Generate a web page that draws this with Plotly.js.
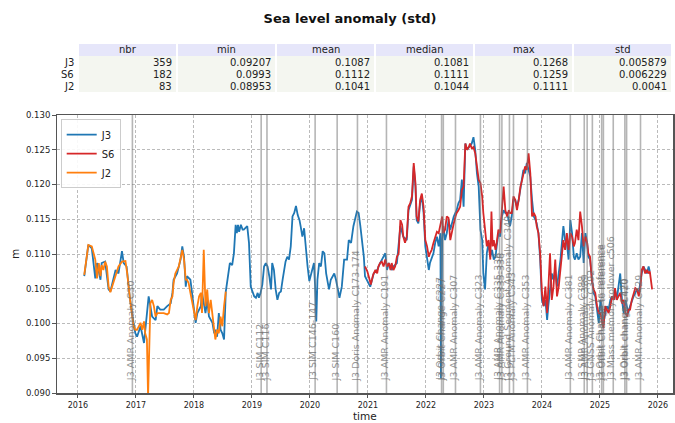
<!DOCTYPE html>
<html>
<head>
<meta charset="utf-8">
<script src="https://cdn.plot.ly/plotly-3.0.1.min.js"></script>
<style>html,body{margin:0;padding:0;background:#fff;}#chart{width:675px;height:423px;}</style>
</head>
<body>
<div id="chart"></div>
<script>
// ---------- data ----------
var j3T = [2016.11,2016.18,2016.24,2016.30,2016.33,2016.39,2016.41,2016.47,2016.53,2016.56,2016.65,2016.70,2016.76,2016.79,2016.84,2016.88,2016.90,2016.96,2016.99,2017.02,2017.08,2017.14,2017.16,2017.19,2017.22,2017.25,2017.28,2017.34,2017.37,2017.42,2017.48,2017.54,2017.60,2017.63,2017.65,2017.71,2017.77,2017.80,2017.83,2017.86,2017.88,2017.94,2018.00,2018.03,2018.06,2018.12,2018.14,2018.17,2018.20,2018.23,2018.26,2018.32,2018.35,2018.37,2018.40,2018.43,2018.46,2018.49,2018.52,2018.55,2018.58,2018.62,2018.66,2018.69,2018.72,2018.74,2018.76,2018.78,2018.81,2018.84,2018.86,2018.89,2018.92,2018.95,2018.98,2019.01,2019.04,2019.07,2019.10,2019.12,2019.15,2019.18,2019.21,2019.24,2019.27,2019.30,2019.33,2019.35,2019.38,2019.41,2019.44,2019.47,2019.50,2019.53,2019.56,2019.58,2019.61,2019.64,2019.67,2019.70,2019.73,2019.76,2019.79,2019.82,2019.84,2019.87,2019.90,2019.93,2019.96,2019.99,2020.02,2020.05,2020.07,2020.09,2020.11,2020.13,2020.16,2020.19,2020.22,2020.25,2020.28,2020.31,2020.33,2020.36,2020.42,2020.45,2020.48,2020.51,2020.55,2020.59,2020.64,2020.67,2020.71,2020.75,2020.81,2020.84,2020.87,2020.90,2020.93,2020.95,2020.98,2021.01,2021.04,2021.10,2021.16,2021.21,2021.27,2021.30,2021.33,2021.36,2021.39,2021.41,2021.44,2021.50,2021.56,2021.61,2021.67,2021.70,2021.76,2021.79,2021.82,2021.84,2021.87,2021.90,2021.93,2021.96,2021.99,2022.02,2022.05,2022.07,2022.10,2022.13,2022.16,2022.19,2022.22,2022.25,2022.26,2022.28,2022.30,2022.33,2022.36,2022.39,2022.42,2022.45,2022.48,2022.53,2022.56,2022.59,2022.62,2022.65,2022.68,2022.71,2022.74,2022.79,2022.82,2022.85,2022.88,2022.91,2022.94,2022.97,2022.99,2023.02,2023.05,2023.08,2023.11,2023.14,2023.17,2023.20,2023.22,2023.25,2023.28,2023.31,2023.34,2023.37,2023.40,2023.43,2023.45,2023.48,2023.51,2023.54,2023.57,2023.60,2023.63,2023.66,2023.68,2023.71,2023.74,2023.77,2023.80,2023.83,2023.86,2023.89,2023.91,2023.94,2023.97,2024.00,2024.03,2024.06,2024.09,2024.11,2024.14,2024.17,2024.20,2024.23,2024.26,2024.32,2024.37,2024.40,2024.43,2024.46,2024.49,2024.52,2024.55,2024.57,2024.60,2024.63,2024.66,2024.69,2024.72,2024.75,2024.78,2024.80,2024.83,2024.86,2024.89,2024.92,2024.95,2024.98,2025.01,2025.03,2025.06,2025.09,2025.12,2025.15,2025.18,2025.21,2025.24,2025.26,2025.29,2025.32,2025.35,2025.38,2025.41,2025.44,2025.47,2025.49,2025.52,2025.55,2025.58,2025.61,2025.64,2025.67,2025.70,2025.72,2025.75,2025.78,2025.81,2025.84,2025.86];
var j3V = [0.1068,0.1113,0.1108,0.1065,0.1087,0.1063,0.1087,0.1089,0.1049,0.1046,0.1077,0.1072,0.1104,0.1087,0.1082,0.1053,0.1034,0.1001,0.0986,0.0981,0.0996,0.0972,0.0991,0.1015,0.1039,0.1025,0.1010,0.1005,0.1025,0.1020,0.1020,0.1025,0.1029,0.1044,0.1063,0.1072,0.1092,0.1111,0.1096,0.1053,0.1068,0.1063,0.1025,0.1001,0.1015,0.1025,0.1044,0.1029,0.1015,0.1034,0.1010,0.1001,0.0986,0.0991,0.0981,0.1015,0.0991,0.0986,0.0977,0.1046,0.1061,0.1087,0.1084,0.1101,0.1142,0.1130,0.1142,0.1132,0.1142,0.1135,0.1135,0.1137,0.1140,0.1116,0.1053,0.1046,0.1039,0.1037,0.1044,0.1037,0.1044,0.1056,0.1082,0.1087,0.1082,0.1068,0.1049,0.1087,0.1077,0.1049,0.1034,0.1044,0.1046,0.1063,0.1077,0.1089,0.1096,0.1092,0.1111,0.1154,0.1159,0.1169,0.1156,0.1149,0.1140,0.1125,0.1137,0.1106,0.1082,0.1061,0.1072,0.1084,0.1087,0.1053,0.1003,0.1063,0.1087,0.1082,0.1104,0.1101,0.1072,0.1058,0.1049,0.1063,0.1072,0.1063,0.1049,0.1037,0.1053,0.1092,0.1092,0.1120,0.1116,0.1140,0.1161,0.1159,0.1140,0.1120,0.1096,0.1068,0.1063,0.1058,0.1053,0.1072,0.1077,0.1087,0.1096,0.1101,0.1077,0.1087,0.1082,0.1077,0.1082,0.1087,0.1140,0.1125,0.1120,0.1163,0.1178,0.1226,0.1197,0.1149,0.1144,0.1173,0.1183,0.1159,0.1111,0.1092,0.1077,0.1087,0.1096,0.1101,0.1116,0.1125,0.1111,0.1130,0.0921,0.1120,0.1140,0.1120,0.1130,0.1149,0.1135,0.1144,0.1154,0.1163,0.1173,0.1178,0.1207,0.1168,0.1259,0.1250,0.1254,0.1259,0.1268,0.1250,0.1216,0.1197,0.1135,0.1120,0.1072,0.1049,0.1101,0.1116,0.1096,0.1106,0.1092,0.1096,0.1111,0.1130,0.1125,0.1154,0.1163,0.1159,0.1159,0.1149,0.1140,0.1154,0.1178,0.1178,0.1168,0.1178,0.1197,0.1211,0.1221,0.1216,0.1231,0.1221,0.1211,0.1178,0.1154,0.1149,0.1144,0.1130,0.1092,0.1034,0.1025,0.1034,0.1005,0.1025,0.1053,0.1072,0.1063,0.1077,0.1053,0.1092,0.1140,0.1120,0.1116,0.1092,0.1149,0.1130,0.1096,0.1092,0.1101,0.1092,0.1096,0.1130,0.1087,0.1130,0.1116,0.1096,0.1092,0.1068,0.1044,0.1039,0.1015,0.1001,0.1034,0.1025,0.1001,0.1015,0.1025,0.1020,0.1034,0.1039,0.1034,0.1049,0.1034,0.1053,0.1072,0.1034,0.1015,0.1034,0.1025,0.1015,0.1025,0.1034,0.1039,0.1044,0.1049,0.1044,0.1063,0.1072,0.1082,0.1077,0.1072,0.1082,0.1075];

var s6T = [2020.95,2020.99,2021.03,2021.05,2021.09,2021.13,2021.16,2021.18,2021.21,2021.24,2021.27,2021.30,2021.33,2021.36,2021.39,2021.41,2021.44,2021.47,2021.50,2021.53,2021.56,2021.59,2021.61,2021.64,2021.67,2021.70,2021.73,2021.76,2021.79,2021.82,2021.84,2021.87,2021.90,2021.93,2021.96,2021.99,2022.02,2022.05,2022.07,2022.10,2022.13,2022.16,2022.19,2022.22,2022.25,2022.28,2022.30,2022.33,2022.36,2022.39,2022.42,2022.45,2022.48,2022.51,2022.53,2022.56,2022.59,2022.62,2022.65,2022.68,2022.71,2022.74,2022.76,2022.79,2022.82,2022.85,2022.88,2022.91,2022.94,2022.97,2022.99,2023.02,2023.05,2023.08,2023.11,2023.13,2023.15,2023.17,2023.20,2023.22,2023.25,2023.28,2023.31,2023.34,2023.37,2023.40,2023.43,2023.45,2023.48,2023.51,2023.54,2023.57,2023.60,2023.63,2023.66,2023.68,2023.71,2023.74,2023.77,2023.80,2023.83,2023.86,2023.89,2023.91,2023.94,2023.97,2024.00,2024.03,2024.06,2024.09,2024.11,2024.14,2024.17,2024.20,2024.23,2024.26,2024.29,2024.32,2024.34,2024.37,2024.40,2024.43,2024.46,2024.49,2024.52,2024.55,2024.57,2024.60,2024.63,2024.66,2024.69,2024.72,2024.75,2024.78,2024.80,2024.83,2024.86,2024.89,2024.92,2024.95,2024.98,2025.01,2025.03,2025.06,2025.09,2025.12,2025.15,2025.18,2025.21,2025.24,2025.26,2025.29,2025.32,2025.35,2025.38,2025.41,2025.44,2025.47,2025.49,2025.52,2025.55,2025.58,2025.61,2025.64,2025.67,2025.70,2025.72,2025.75,2025.78,2025.81,2025.84,2025.86,2025.90];
var s6V = [0.1082,0.1075,0.1063,0.1056,0.1070,0.1077,0.1072,0.1082,0.1087,0.1089,0.1082,0.1092,0.1082,0.1087,0.1077,0.1087,0.1077,0.1082,0.1096,0.1101,0.1149,0.1142,0.1125,0.1116,0.1125,0.1168,0.1173,0.1183,0.1231,0.1202,0.1154,0.1147,0.1178,0.1187,0.1168,0.1120,0.1111,0.1096,0.1101,0.1106,0.1116,0.1125,0.1132,0.1130,0.1140,0.1154,0.1130,0.1135,0.1154,0.1152,0.1120,0.1135,0.1144,0.1154,0.1159,0.1163,0.1168,0.1192,0.1197,0.1259,0.1250,0.1254,0.1259,0.1252,0.1254,0.1245,0.1226,0.1207,0.1202,0.1183,0.1159,0.1130,0.1111,0.1120,0.1092,0.1161,0.1111,0.1120,0.1106,0.1116,0.1135,0.1130,0.1159,0.1197,0.1163,0.1154,0.1163,0.1159,0.1159,0.1183,0.1178,0.1163,0.1178,0.1197,0.1207,0.1216,0.1226,0.1221,0.1245,0.1216,0.1154,0.1159,0.1154,0.1140,0.1130,0.1101,0.1044,0.1025,0.1053,0.1015,0.1053,0.1101,0.1034,0.1053,0.1092,0.1039,0.1053,0.1082,0.1101,0.1120,0.1106,0.1130,0.1106,0.1130,0.1125,0.1111,0.1116,0.1135,0.1120,0.1161,0.1140,0.1111,0.1125,0.1116,0.1101,0.1096,0.1063,0.1049,0.1044,0.1025,0.1015,0.1015,0.1005,0.0993,0.1025,0.1020,0.1015,0.1025,0.1039,0.1034,0.1051,0.1034,0.1039,0.1044,0.1029,0.1034,0.1015,0.1010,0.1020,0.1020,0.1034,0.1044,0.1051,0.1049,0.1039,0.1053,0.1077,0.1082,0.1072,0.1077,0.1072,0.1075,0.1049];

var j2T = [2016.11,2016.18,2016.24,2016.30,2016.33,2016.36,2016.39,2016.41,2016.44,2016.47,2016.50,2016.53,2016.56,2016.62,2016.65,2016.70,2016.76,2016.82,2016.85,2016.88,2016.90,2016.93,2016.96,2016.99,2017.02,2017.05,2017.08,2017.11,2017.14,2017.16,2017.19,2017.21,2017.23,2017.25,2017.28,2017.31,2017.34,2017.37,2017.42,2017.48,2017.54,2017.57,2017.60,2017.63,2017.65,2017.68,2017.74,2017.80,2017.83,2017.86,2017.88,2017.91,2017.94,2018.00,2018.03,2018.06,2018.09,2018.12,2018.14,2018.17,2018.20,2018.23,2018.26,2018.29,2018.32,2018.35,2018.37,2018.40,2018.43,2018.46,2018.49,2018.52,2018.55];
var j2V = [0.1070,0.1113,0.1111,0.1092,0.1065,0.1087,0.1068,0.1084,0.1077,0.1089,0.1082,0.1053,0.1045,0.1061,0.1070,0.1082,0.1089,0.1090,0.1072,0.1044,0.1034,0.1015,0.0996,0.0991,0.0991,0.0996,0.1001,0.0991,0.1003,0.0986,0.0977,0.0895,0.0986,0.1029,0.1034,0.1025,0.1010,0.1015,0.1015,0.1015,0.1013,0.1015,0.1034,0.1039,0.1058,0.1072,0.1082,0.1106,0.1092,0.1063,0.1063,0.1058,0.1044,0.1015,0.1005,0.1025,0.1039,0.1044,0.1015,0.1106,0.1025,0.1049,0.1015,0.1034,0.1015,0.0996,0.0977,0.0991,0.0986,0.1010,0.0996,0.1025,0.1046];

var seriesNames = ["J3", "S6", "J2"];

var eventT = [2016.94,2019.16,2019.26,2020.09,2020.47,2020.82,2021.32,2022.27,2022.30,2022.51,2022.94,2023.27,2023.31,2023.44,2023.51,2023.75,2024.49,2024.73,2024.78,2024.87,2025.03,2025.06,2025.23,2025.43,2025.46,2025.70];
var eventLabels = ["J3 AMR Anomaly C30","J3 SIM C112","J3 SIM C116","J3 SIM C146-147","J3 SIM C160","J3 Doris Anomaly C173-174","J3 AMR Anomaly C191","J3 Orbit Change C227","J3 Orbit Change C227","J3 AMR Anomaly C307","J3 AMR Anomaly C323","J3 AMR Anomaly C335-336","J3 AMR Anomaly C335-336","J3 Ground Segment Anomaly C340","J3 PLTM Anomaly C343","J3 AMR Anomaly C353","J3 AMR Anomaly C381","J3 SMP Anomaly C388","J3 AMR Anomaly C389","J3 GNSS Anomaly C392","J3 Orbit Change to reference","J3 Orbit Change to reference","J3 Mass memory rollover c506","J3 Orbit change C420","J3 Orbit change C420","J3 AMR Anomaly C429"];

var statCols = ["nbr","min","mean","median","max","std"];
var statRows = ["J3","S6","J2"];
var statNbr = [359,182,83];
var statMin = [0.09207,0.0993,0.08953];
var statMean = [0.1087,0.1112,0.1041];
var statMedian = [0.1081,0.1111,0.1044];
var statMax = [0.1268,0.1259,0.1111];
var statStd = [0.005879,0.006229,0.0041];

var xTicks = [2016,2017,2018,2019,2020,2021,2022,2023,2024,2025,2026];

// ---------- layout helpers ----------
var W = 675, H = 423;
var L = 57, R = 2, T = 115, B = 30;
var pw = W - L - R, ph = H - T - B;
function px2paperX(px){ return (px - L) / pw; }
function py2paperY(py){ return (H - B - py) / ph; }

var font = "DejaVu Sans, Verdana, sans-serif";
var colors = ["#1f77b4", "#d62728", "#ff7f0e"];

var traces = [
  {x: j3T, y: j3V, name: seriesNames[0], type: "scatter", mode: "lines", line: {color: colors[0], width: 1.8}},
  {x: s6T, y: s6V, name: seriesNames[1], type: "scatter", mode: "lines", line: {color: colors[1], width: 1.8}},
  {x: j2T, y: j2V, name: seriesNames[2], type: "scatter", mode: "lines", line: {color: colors[2], width: 1.8}}
];

var shapes = [];
var annotations = [];

// event lines + labels
eventT.forEach(function(t, i){
  shapes.push({type: "line", xref: "x", yref: "paper", x0: t, x1: t, y0: 0, y1: 1,
    line: {color: "rgba(120,120,120,0.55)", width: 1.6}, layer: "above"});
  annotations.push({xref: "x", yref: "paper", x: t, y: 0.035, xanchor: "center", yanchor: "bottom",
    xshift: -2, textangle: -90, showarrow: false, text: eventLabels[i],
    font: {family: font, size: 9.5, color: "rgba(110,110,110,0.75)"}});
});

// stats table
var tblLeft = 78, colW = 99, rowH = 12, tblTop = 44;
var cols = [statNbr, statMin, statMean, statMedian, statMax, statStd];
statCols.forEach(function(c, j){
  var x0 = tblLeft + j*colW, x1 = x0 + colW;
  shapes.push({type: "rect", xref: "paper", yref: "paper",
    x0: px2paperX(x0 + 1), x1: px2paperX(x1 - 1), y0: py2paperY(tblTop + rowH), y1: py2paperY(tblTop),
    fillcolor: "#e6e6fa", line: {width: 0}, layer: "below"});
  annotations.push({xref: "paper", yref: "paper", x: px2paperX((x0 + x1)/2), y: py2paperY(tblTop + rowH/2),
    xanchor: "center", yanchor: "middle", showarrow: false, text: c,
    font: {family: font, size: 10, color: "#222"}});
  statRows.forEach(function(r, i){
    var yTop = tblTop + rowH*(i+1);
    shapes.push({type: "rect", xref: "paper", yref: "paper",
      x0: px2paperX(x0 + 1), x1: px2paperX(x1 - 1), y0: py2paperY(yTop + rowH), y1: py2paperY(yTop),
      fillcolor: "#f4f6f0", line: {width: 0}, layer: "below"});
    annotations.push({xref: "paper", yref: "paper", x: px2paperX(x1 - 3), y: py2paperY(yTop + rowH/2),
      xanchor: "right", yanchor: "middle", showarrow: false, text: String(cols[j][i]),
      font: {family: font, size: 10, color: "#222"}});
  });
});
statRows.forEach(function(r, i){
  var yTop = tblTop + rowH*(i+1);
  annotations.push({xref: "paper", yref: "paper", x: px2paperX(tblLeft - 2), y: py2paperY(yTop + rowH/2),
    xanchor: "right", yanchor: "middle", showarrow: false, text: r,
    font: {family: font, size: 10, color: "#222"}});
});

// axis titles
annotations.push({xref: "paper", yref: "paper", x: px2paperX(15), y: 0.5, xanchor: "center", yanchor: "middle",
  showarrow: false, text: "m", textangle: -90, font: {family: font, size: 10.5, color: "#222"}});
annotations.push({xref: "paper", yref: "paper", x: 0.5, y: py2paperY(416), xanchor: "center", yanchor: "middle",
  showarrow: false, text: "time", font: {family: font, size: 10.5, color: "#222"}});

var layout = {
  width: W, height: H,
  margin: {l: L, r: R, t: T, b: B},
  paper_bgcolor: "#fff", plot_bgcolor: "#fff",
  title: {text: "<b>Sea level anomaly (std)</b>", x: 350/W, xref: "container", xanchor: "center",
          y: 1 - 18/H, yref: "container", yanchor: "middle",
          font: {family: font, size: 13, color: "#111"}},
  showlegend: true,
  legend: {x: 0.006, y: 0.985, xanchor: "left", yanchor: "top", bgcolor: "rgba(255,255,255,0.9)",
           bordercolor: "#ccc", borderwidth: 1, font: {family: font, size: 10, color: "#222"},
           tracegroupgap: 0, itemwidth: 30},
  xaxis: {range: [2015.64, 2026.26], tickmode: "array", tickvals: xTicks, ticktext: xTicks.map(String),
          showgrid: true, gridcolor: "#bbb", griddash: "3px,2px", gridwidth: 1,
          showline: true, linecolor: "#555", linewidth: 1.5, mirror: true,
          ticks: "outside", ticklen: 3.5, tickcolor: "#555", zeroline: false,
          tickfont: {family: font, size: 8, color: "#222"}},
  yaxis: {range: [0.090, 0.130], tickmode: "linear", tick0: 0.090, dtick: 0.005, tickformat: ".3f",
          showgrid: true, gridcolor: "#bbb", griddash: "3px,2px", gridwidth: 1,
          showline: true, linecolor: "#555", linewidth: 1.5, mirror: true,
          ticks: "outside", ticklen: 3.5, tickcolor: "#555", zeroline: false,
          tickfont: {family: font, size: 8.5, color: "#222"}},
  shapes: shapes,
  annotations: annotations
};

Plotly.newPlot("chart", traces, layout, {displayModeBar: false, staticPlot: true});
</script>
</body>
</html>
